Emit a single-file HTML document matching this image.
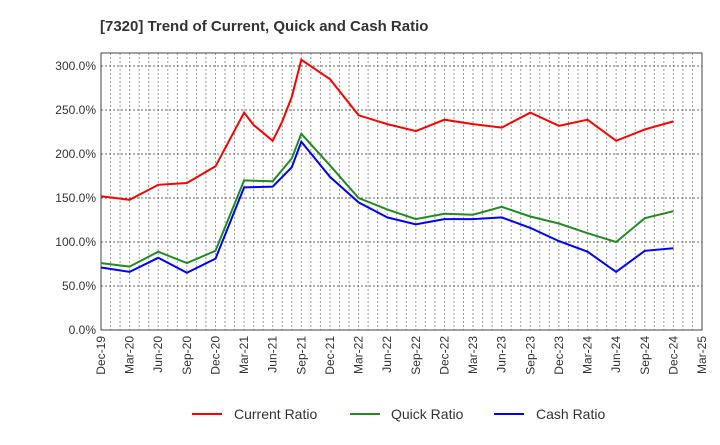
<!DOCTYPE html>
<html><head><meta charset="utf-8"><style>
body{margin:0;background:#fff;font-family:"Liberation Sans",sans-serif}
</style></head><body>
<svg id="c" width="720" height="440" xmlns="http://www.w3.org/2000/svg">
<text x="100" y="31" font-size="15" font-weight="bold" fill="#333">[7320]  Trend of Current, Quick and Cash Ratio</text>
<g id="grid"></g><g id="axes"></g><g id="series"></g>
<g>
<line x1="192" y1="414" x2="222" y2="414" stroke="#ff0000" stroke-width="2"/><text x="234" y="419" font-size="14" fill="#333">Current Ratio</text>
<line x1="350" y1="414" x2="380" y2="414" stroke="#228b22" stroke-width="2"/><text x="391" y="419" font-size="14" fill="#333">Quick Ratio</text>
<line x1="494" y1="414" x2="524" y2="414" stroke="#0000ff" stroke-width="2"/><text x="536" y="419" font-size="14" fill="#333">Cash Ratio</text>
</g>
</svg>
<script>
const xLabels=["Dec-19","Mar-20","Jun-20","Sep-20","Dec-20","Mar-21","Jun-21","Sep-21","Dec-21","Mar-22","Jun-22","Sep-22","Dec-22","Mar-23","Jun-23","Sep-23","Dec-23","Mar-24","Jun-24","Sep-24","Dec-24","Mar-25"];
const yTicks=[0,50,100,150,200,250,300];
const months=[0,3,6,9,12,15,16,18,19,20,21,24,27,30,33,36,39,42,45,48,51,54,57,60];
const current=[152,148,165,167,186,247,233,215,237,265,307,285,244,234,226,239,234,230,247,232,239,215,228,237];
const quick=[76,72,89,76,90,170,null,169,null,195,223,187,150,137,126,132,131,140,129,121,110,100,127,135];
const cash=[71,66,82,65,81,162,null,163,null,185,214,174,145,128,120,126,126,128,116,101,89,66,90,93];
const L=101,R=702,T=53,B=330;
const xs=m=>L+(R-L)*m/63, ys=v=>B-v*0.88;
const NS="http://www.w3.org/2000/svg";
function mk(tag,attrs,parent){const e=document.createElementNS(NS,tag);for(const k in attrs)e.setAttribute(k,attrs[k]);parent.appendChild(e);return e;}
const grid=document.getElementById('grid'),axes=document.getElementById('axes'),ser=document.getElementById('series');
for(let m=1;m<63;m++){const l=mk('line',{x1:xs(m),x2:xs(m),y1:T,y2:B,stroke:'#999','stroke-width':1,'stroke-dasharray':'2,2'},grid);

}
yTicks.forEach(v=>{if(v>0){const l=mk('line',{x1:L,x2:R,y1:ys(v),y2:ys(v),stroke:'#666','stroke-width':1,'stroke-dasharray':'2,2'},grid);

}
const t=mk('text',{x:L-5,y:ys(v)+4,'font-size':12,'text-anchor':'end',fill:'#333'},axes);t.textContent=v.toFixed(1)+'%';

});
const fr=mk('rect',{x:L,y:T,width:R-L,height:B-T,fill:'none',stroke:'#444','stroke-width':1},axes);


xLabels.forEach((s,i)=>{const x=xs(i*3);const t=mk('text',{x:0,y:0,'font-size':12,'text-anchor':'end',fill:'#333',transform:`translate(${x+4},${B+6}) rotate(-90)`},axes);t.textContent=s;

});
[[current,'#ff0000','current-ratio-line'],[quick,'#228b22','quick-ratio-line'],[cash,'#0000ff','cash-ratio-line']].forEach(([d,c,n])=>{
const pts=[];d.forEach((v,i)=>{if(v!=null)pts.push(xs(months[i]).toFixed(1)+','+ys(v).toFixed(1));});
const p=mk('polyline',{points:pts.join(' '),fill:'none',stroke:c,'stroke-width':2},ser);

});
</script>
</body></html>
